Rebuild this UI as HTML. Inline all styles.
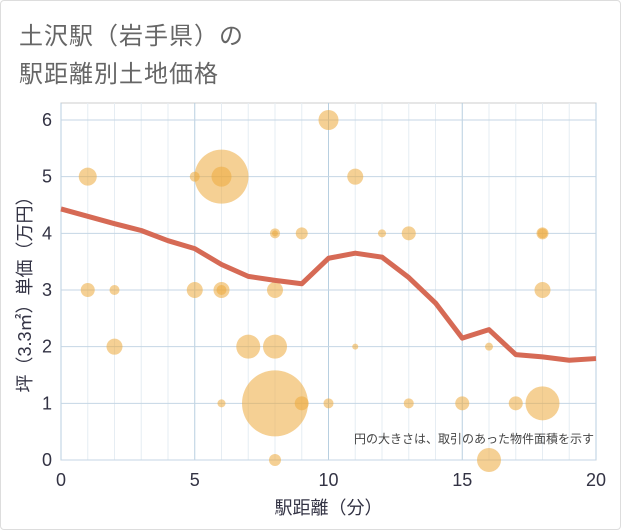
<!DOCTYPE html>
<html><head><meta charset="utf-8"><style>
body{margin:0;background:#fff;}
#wrap{width:619px;height:528px;border:1px solid #ddd;border-radius:4px;position:relative;overflow:hidden;font-family:"Liberation Sans","Noto Sans CJK JP",sans-serif;}
.title{position:absolute;left:18px;color:#666;font-size:24px;letter-spacing:1px;}
</style></head><body>
<div id="wrap">
<div class="title" style="top:15px">土沢駅（岩手県）の</div>
<div class="title" style="top:53px">駅距離別土地価格</div>
<svg id="chart" width="621" height="530" style="position:absolute;left:-1px;top:-1px"></svg>
</div>
<script>
const xTicks=[0,5,10,15,20];
const yTicks=[0,1,2,3,4,5,6];
const lineX=[0,1,2,3,4,5,6,7,8,9,10,11,12,13,14,15,16,17,18,19,20];
const lineY=[4.43,4.3,4.17,4.05,3.87,3.73,3.45,3.24,3.17,3.11,3.56,3.65,3.58,3.22,2.77,2.15,2.3,1.86,1.82,1.76,1.79];
const bubX=[1,1,2,2,5,6,6,5,6,6,6,7,8,8,8,8,9,8,8,9,10,10,11,11,12,13,13,15,16,16,17,18,18,18,18];
const bubY=[5,3,3,2,5,5,5,3,3,3,1,2,2,1,4,4,4,3,0,1,6,1,5,2,4,4,1,1,2,0,1,1,4,4,3];
const bubR=[9,7,5,8,5,27,10,8,8,5,4,12,12,33,5,3,6,8,6,7,10,5,8,3,4,7,5,7,4,12,7,17,6,5,8];
const NS="http://www.w3.org/2000/svg";
const svg=document.getElementById('chart');
const L=61,R=596,T=103,B=460;
const sx=v=>L+(v-0)/20*(R-L);
const sy=v=>B-(v/6)*(B-120);
function mk(t,a){const e=document.createElementNS(NS,t);for(const k in a)e.setAttribute(k,a[k]);svg.appendChild(e);return e;}
const bg=mk('rect',{x:L,y:T,width:R-L,height:B-T,fill:'#fff',stroke:'#ccc'});


for(let v=0;v<=20;v++){const g=mk('line',{x1:sx(v),x2:sx(v),y1:T,y2:B,stroke:v%5==0?'#b8cfe0':'#e6edf3','stroke-width':1});

}
for(let v=0;v<=6;v+=1){const g=mk('line',{x1:L,x2:R,y1:sy(v),y2:sy(v),stroke:'#c4d6e4','stroke-width':1});

}
xTicks.forEach(v=>{const t=mk('text',{x:sx(v),y:486,'text-anchor':'middle','font-size':18,fill:'#334'});t.textContent=v;

});
yTicks.forEach(v=>{const t=mk('text',{x:52,y:sy(v)+6,'text-anchor':'end','font-size':18,fill:'#334'});t.textContent=v;

});
bubX.forEach((x,i)=>{const c=mk('circle',{cx:sx(x),cy:sy(bubY[i]),r:bubR[i],fill:'rgba(236,170,60,0.55)'});

});
const p=mk('polyline',{points:lineX.map((x,i)=>sx(x)+','+sy(lineY[i])).join(' '),fill:'none',stroke:'#d66a55','stroke-width':5,'stroke-linejoin':'round'});


const note=mk('text',{x:594,y:443,'text-anchor':'end','font-size':12,fill:'#444'});note.textContent='円の大きさは、取引のあった物件面積を示す';


const xt=mk('text',{x:sx(10),y:514,'text-anchor':'middle','font-size':18,fill:'#334'});xt.textContent='駅距離（分）';


const yt=mk('text',{x:0,y:0,'text-anchor':'middle','font-size':18,fill:'#334',transform:'translate(31,'+sy(3)+') rotate(-90)'});yt.textContent='坪（3.3㎡）単価（万円）';


</script>
</body></html>
